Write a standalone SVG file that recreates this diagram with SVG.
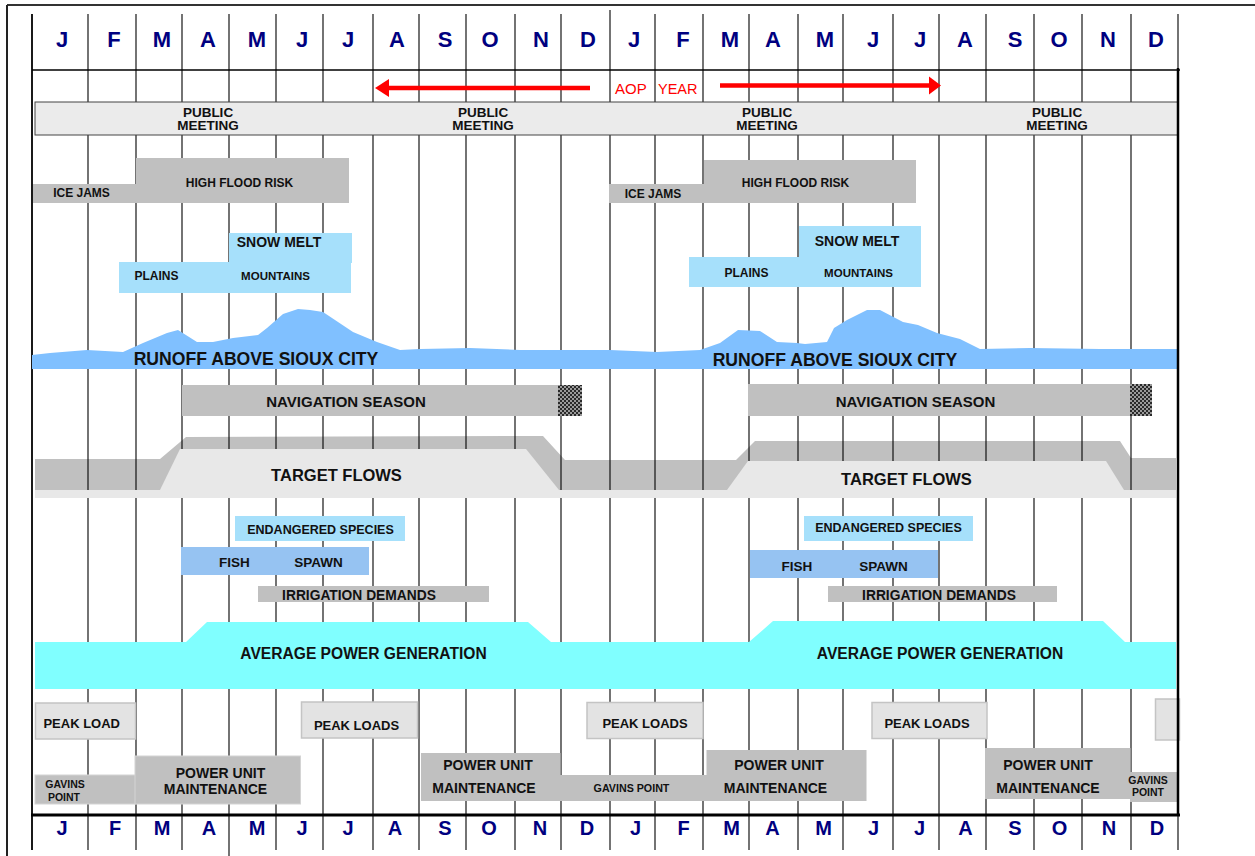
<svg xmlns="http://www.w3.org/2000/svg" width="1255" height="856" viewBox="0 0 1255 856">
<style>
text{font-family:"Liberation Sans",Arial,sans-serif;font-weight:bold;fill:#111;text-anchor:middle}
.mo{fill:#000080;font-size:22px}
.mb{fill:#000080;font-size:20px}
.grid line{stroke:#000;stroke-width:1.1}
.gray{fill:#c0c0c0}
.lt{fill:#e8e8e8}
.sky{fill:#a6e0fb}
.fish{fill:#96c3f2}
.peak{fill:#e3e3e3;stroke:#c4c4c4;stroke-width:1.5}
.pm{font-size:13.5px}
.s12{font-size:12px}
.red{fill:#ff0000;font-weight:normal;text-anchor:start}
</style>
<defs>
<pattern id="chk" width="4" height="4" patternUnits="userSpaceOnUse">
<rect width="4" height="4" fill="#9a9a9a"/>
<rect width="2" height="2" fill="#2a2a2a"/>
<rect x="2" y="2" width="2" height="2" fill="#2a2a2a"/>
</pattern>
</defs>
<rect width="1255" height="856" fill="#fff"/>

<g id="target-flows-back">
<polygon class="gray" points="35,459 160,459 186,437 543,436 565,460 736,460 755,441 1120,441 1131,458 1176,458 1176,490 35,490"/>
</g>

<g id="grid" class="grid">
<line x1="32" y1="14" x2="32" y2="850" style="stroke-width:1.8"/>
<line x1="88" y1="14" x2="88" y2="850"/>
<line x1="136" y1="14" x2="136" y2="850"/>
<line x1="182" y1="14" x2="182" y2="850"/>
<line x1="229" y1="14" x2="229" y2="856"/>
<line x1="276" y1="14" x2="276" y2="850"/>
<line x1="323" y1="14" x2="323" y2="850"/>
<line x1="373" y1="14" x2="373" y2="850"/>
<line x1="419" y1="14" x2="419" y2="850"/>
<line x1="466" y1="14" x2="466" y2="850"/>
<line x1="515" y1="14" x2="515" y2="850"/>
<line x1="561" y1="14" x2="561" y2="850"/>
<line x1="610" y1="10" x2="610" y2="850"/>
<line x1="655" y1="14" x2="655" y2="850"/>
<line x1="703" y1="14" x2="703" y2="850"/>
<line x1="749" y1="14" x2="749" y2="850"/>
<line x1="798" y1="14" x2="798" y2="850"/>
<line x1="843" y1="14" x2="843" y2="850"/>
<line x1="893" y1="14" x2="893" y2="850"/>
<line x1="939" y1="14" x2="939" y2="850"/>
<line x1="986" y1="14" x2="986" y2="850"/>
<line x1="1034" y1="14" x2="1034" y2="850"/>
<line x1="1082" y1="14" x2="1082" y2="850"/>
<line x1="1131" y1="14" x2="1131" y2="850"/>
<line x1="1178" y1="14" x2="1178" y2="850"/>
<line x1="32" y1="70" x2="1180" y2="70" style="stroke-width:1.3"/>
</g>

<g id="frame">
<line x1="7" y1="5" x2="1255" y2="5" stroke="#333" stroke-width="2"/>
<line x1="7" y1="5" x2="7" y2="856" stroke="#222" stroke-width="2"/>
</g>

<g id="months-top">
<text class="mo" x="62" y="46.5">J</text>
<text class="mo" x="114" y="46.5">F</text>
<text class="mo" x="162" y="46.5">M</text>
<text class="mo" x="208" y="46.5">A</text>
<text class="mo" x="257" y="46.5">M</text>
<text class="mo" x="302" y="46.5">J</text>
<text class="mo" x="348" y="46.5">J</text>
<text class="mo" x="397" y="46.5">A</text>
<text class="mo" x="445" y="46.5">S</text>
<text class="mo" x="490" y="46.5">O</text>
<text class="mo" x="541" y="46.5">N</text>
<text class="mo" x="588" y="46.5">D</text>
<text class="mo" x="634" y="46.5">J</text>
<text class="mo" x="683" y="46.5">F</text>
<text class="mo" x="730" y="46.5">M</text>
<text class="mo" x="773" y="46.5">A</text>
<text class="mo" x="825" y="46.5">M</text>
<text class="mo" x="873" y="46.5">J</text>
<text class="mo" x="920" y="46.5">J</text>
<text class="mo" x="965" y="46.5">A</text>
<text class="mo" x="1015" y="46.5">S</text>
<text class="mo" x="1059" y="46.5">O</text>
<text class="mo" x="1108" y="46.5">N</text>
<text class="mo" x="1156" y="46.5">D</text>
</g>

<g id="aop-year">
<text class="red" x="615" y="94" style="font-size:15px">AOP</text>
<text class="red" x="658" y="94" style="font-size:14.5px">YEAR</text>
</g>

<g id="connectors">
<line x1="590" y1="88" x2="386" y2="88" stroke="#ff0000" stroke-width="4.5"/>
<polygon points="375,88 389,79 389,97" fill="#ff0000"/>
<line x1="720" y1="85.5" x2="930" y2="85.5" stroke="#ff0000" stroke-width="4.5"/>
<polygon points="941,85.5 929,76.5 929,94.5" fill="#ff0000"/>
</g>

<g id="public-meeting">
<rect x="35" y="102" width="1143" height="33" fill="#ebebeb" stroke="#444" stroke-width="1"/>
<text class="pm" x="208" y="116.7">PUBLIC</text><text class="pm" x="208" y="130">MEETING</text>
<text class="pm" x="483" y="116.7">PUBLIC</text><text class="pm" x="483" y="130">MEETING</text>
<text class="pm" x="767" y="116.7">PUBLIC</text><text class="pm" x="767" y="130">MEETING</text>
<text class="pm" x="1057" y="116.7">PUBLIC</text><text class="pm" x="1057" y="130">MEETING</text>
</g>

<g id="flood-risk-1">
<rect class="gray" x="33" y="184" width="103" height="19"/>
<rect class="gray" x="136" y="158" width="213" height="45"/>
<text class="s12" x="81.5" y="197">ICE JAMS</text>
<text class="s12" x="239.5" y="187">HIGH FLOOD RISK</text>
</g>
<g id="flood-risk-2">
<rect class="gray" x="609" y="184" width="95" height="19"/>
<rect class="gray" x="704" y="160" width="212" height="43"/>
<text class="s12" x="653" y="198">ICE JAMS</text>
<text class="s12" x="795.5" y="187">HIGH FLOOD RISK</text>
</g>

<g id="snow-melt-1">
<rect class="sky" x="229" y="233" width="123" height="30"/>
<rect class="sky" x="119" y="262" width="232" height="31"/>
<text x="279" y="247" style="font-size:14px">SNOW MELT</text>
<text class="s12" x="156.5" y="280">PLAINS</text>
<text x="275.5" y="280" style="font-size:11.5px">MOUNTAINS</text>
</g>
<g id="snow-melt-2">
<rect class="sky" x="799" y="226" width="122" height="31"/>
<rect class="sky" x="689" y="257" width="232" height="30"/>
<text x="857" y="246" style="font-size:14px">SNOW MELT</text>
<text class="s12" x="746.5" y="277">PLAINS</text>
<text x="858.5" y="277" style="font-size:11.5px">MOUNTAINS</text>
</g>

<g id="runoff">
<polygon fill="#80c0ff" points="32,355 50,353 87,350 123,352 143,343 167,333 178,330 197,342 213,342 233,338 258,335 267,328 283,314 298,309 310,310 323,312 353,332 377,342 400,350 420,349 470,348 520,350 560,350 610,350 657,352 700,350 720,343 738,330 760,331 777,342 797,343 805,344 827,342 834,328 847,320 867,310 880,310 903,322 918,325 937,333 960,339 980,349 1030,348 1100,349 1178,349 1178,369 32,369"/>
<text x="256" y="365" style="font-size:17.6px">RUNOFF ABOVE SIOUX CITY</text>
<text x="835" y="366" style="font-size:17.6px">RUNOFF ABOVE SIOUX CITY</text>
</g>

<g id="navigation-1">
<rect class="gray" x="182" y="385" width="376" height="31"/>
<rect x="558" y="385" width="24" height="31" fill="url(#chk)"/>
<text x="346" y="406.7" style="font-size:15px">NAVIGATION SEASON</text>
</g>
<g id="navigation-2">
<rect class="gray" x="748" y="384" width="382" height="32"/>
<rect x="1130" y="384" width="22" height="32" fill="url(#chk)"/>
<text x="915.5" y="406.5" style="font-size:15px">NAVIGATION SEASON</text>
</g>

<g id="target-flows">
<polygon class="lt" points="180,449 526,449 559,490 160,490"/>
<polygon class="lt" points="748,461 1106,461 1124,490 727,490"/>
<rect class="lt" x="35" y="490" width="1141" height="8"/>
<text x="336.5" y="481" style="font-size:16.5px">TARGET FLOWS</text>
<text x="906.5" y="485" style="font-size:16.5px">TARGET FLOWS</text>
</g>

<g id="endangered-species">
<rect class="sky" x="235" y="516" width="170" height="25"/>
<rect class="sky" x="804" y="516" width="169" height="25"/>
<text x="320.5" y="534" style="font-size:12.5px">ENDANGERED SPECIES</text>
<text x="888.5" y="532" style="font-size:12.5px">ENDANGERED SPECIES</text>
</g>

<g id="fish-spawn">
<rect class="fish" x="181" y="547" width="188" height="28"/>
<rect class="fish" x="750" y="550" width="188" height="28"/>
<text x="234.5" y="567" style="font-size:13.5px">FISH</text>
<text x="318.5" y="567" style="font-size:13.5px">SPAWN</text>
<text x="797" y="571" style="font-size:13.5px">FISH</text>
<text x="883.5" y="571" style="font-size:13.5px">SPAWN</text>
</g>

<g id="irrigation">
<rect class="gray" x="258" y="586" width="231" height="16"/>
<rect class="gray" x="828" y="586" width="229" height="16"/>
<text x="359" y="600" style="font-size:13.8px">IRRIGATION DEMANDS</text>
<text x="939" y="600" style="font-size:13.8px">IRRIGATION DEMANDS</text>
</g>

<g id="power-generation">
<polygon fill="#80ffff" points="35,642 186,642 207,622 528,622 551,642 749,642 773,621 1103,621 1125,642 1176,642 1176,689 35,689"/>
<text x="363.5" y="659" style="font-size:15.6px">AVERAGE POWER GENERATION</text>
<text x="940" y="659" style="font-size:15.6px">AVERAGE POWER GENERATION</text>
</g>

<g id="peak-loads">
<rect class="peak" x="35.5" y="703" width="100" height="36"/>
<rect class="peak" x="301.5" y="702" width="116" height="36"/>
<rect class="peak" x="587" y="702.5" width="116" height="36"/>
<rect class="peak" x="872" y="702.5" width="115" height="36"/>
<rect class="peak" x="1155.5" y="699" width="24" height="41"/>
<text x="81.7" y="728" style="font-size:13px">PEAK LOAD</text>
<text x="356.5" y="730" style="font-size:13px">PEAK LOADS</text>
<text x="645" y="728" style="font-size:13px">PEAK LOADS</text>
<text x="927" y="728" style="font-size:13px">PEAK LOADS</text>
</g>

<g id="maintenance-1">
<rect class="gray" x="35" y="775" width="101" height="29" stroke="#d4d4d4" stroke-width="1"/>
<rect class="gray" x="135" y="756" width="165.5" height="48" stroke="#d4d4d4" stroke-width="1"/>
<text x="65" y="787.7" style="font-size:10.5px">GAVINS</text>
<text x="64" y="800.7" style="font-size:10.5px">POINT</text>
<text x="220.5" y="777.5" style="font-size:14px">POWER UNIT</text>
<text x="215.5" y="794" style="font-size:14px">MAINTENANCE</text>
</g>
<g id="maintenance-2">
<rect class="gray" x="421" y="753" width="139.5" height="48"/>
<rect class="gray" x="560" y="775" width="147" height="26"/>
<text x="488" y="770" style="font-size:14px">POWER UNIT</text>
<text x="484" y="793" style="font-size:14px">MAINTENANCE</text>
<text x="631.5" y="791.5" style="font-size:10.7px">GAVINS POINT</text>
</g>
<g id="maintenance-3">
<rect class="gray" x="706.5" y="750" width="160" height="51"/>
<text x="779" y="770" style="font-size:14px">POWER UNIT</text>
<text x="775.5" y="793.3" style="font-size:14px">MAINTENANCE</text>
</g>
<g id="maintenance-4">
<rect class="gray" x="985" y="748" width="145.5" height="51"/>
<rect class="gray" x="1130" y="772" width="48" height="30"/>
<text x="1048" y="770" style="font-size:14px">POWER UNIT</text>
<text x="1048" y="793" style="font-size:14px">MAINTENANCE</text>
<text x="1148" y="784" style="font-size:10.5px">GAVINS</text>
<text x="1148" y="796" style="font-size:10.5px">POINT</text>
</g>

<g id="edges">
<line x1="1178" y1="68" x2="1178" y2="815" stroke="#000" stroke-width="2.5"/>
<line x1="31" y1="815" x2="1180" y2="815" stroke="#000" stroke-width="3"/>
</g>

<g id="months-bottom">
<text class="mb" x="62" y="835">J</text>
<text class="mb" x="115" y="835">F</text>
<text class="mb" x="162" y="835">M</text>
<text class="mb" x="209" y="835">A</text>
<text class="mb" x="257" y="835">M</text>
<text class="mb" x="302" y="835">J</text>
<text class="mb" x="348" y="835">J</text>
<text class="mb" x="395" y="835">A</text>
<text class="mb" x="445" y="835">S</text>
<text class="mb" x="489" y="835">O</text>
<text class="mb" x="540" y="835">N</text>
<text class="mb" x="587" y="835">D</text>
<text class="mb" x="635.5" y="835">J</text>
<text class="mb" x="683.5" y="835">F</text>
<text class="mb" x="731.5" y="835">M</text>
<text class="mb" x="772.5" y="835">A</text>
<text class="mb" x="823.5" y="835">M</text>
<text class="mb" x="873.5" y="835">J</text>
<text class="mb" x="919.5" y="835">J</text>
<text class="mb" x="965.5" y="835">A</text>
<text class="mb" x="1015" y="835">S</text>
<text class="mb" x="1059.5" y="835">O</text>
<text class="mb" x="1109" y="835">N</text>
<text class="mb" x="1157" y="835">D</text>
</g>
</svg>
